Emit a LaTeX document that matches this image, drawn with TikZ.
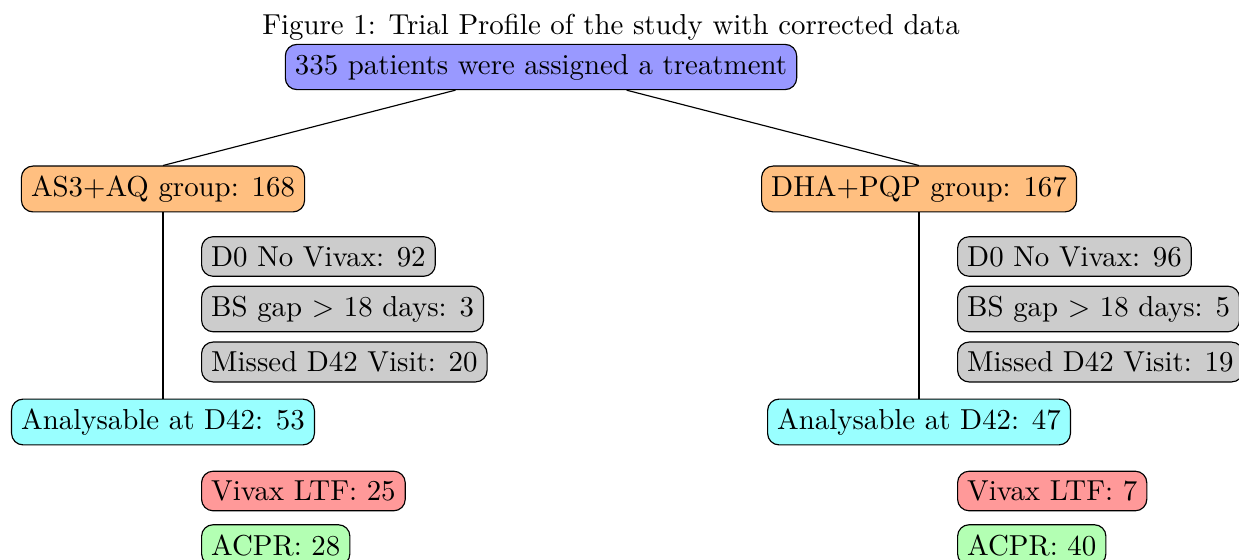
\documentclass[tikz,border=0pt]{standalone}
\usetikzlibrary{calc}
\definecolor{anfill}{RGB}{153,255,255}
\definecolor{topfill}{RGB}{153,153,255}
\definecolor{grpfill}{RGB}{255,191,128}
\definecolor{exfill}{RGB}{204,204,204}
\definecolor{ltffill}{RGB}{255,153,153}
\definecolor{acprfill}{RGB}{179,255,179}
\begin{document}
\begin{tikzpicture}[x=0.3464pt,y=-0.3464pt,
  box/.style={draw, rounded corners=4pt, inner sep=3.33pt},
  topbox/.style={box, fill=topfill},
  grpbox/.style={box, fill=grpfill},
  exbox/.style={box, fill=exfill, anchor=west},
  anbox/.style={box, fill=anfill},
  ltfbox/.style={box, fill=ltffill, anchor=west},
  acprbox/.style={box, fill=acprfill, anchor=west},
  link/.style={draw, line width=0.4pt}]
\useasboundingbox (0,0) rectangle (1239,560);
\node[inner sep=0] (cap) at (611,27) {Figure 1: Trial Profile of the study with corrected data};
\node[topbox] (top) at (541,67) {335 patients were assigned a treatment};
\node[grpbox] (g1) at (163,189) {AS3+AQ group: 168};
\node[grpbox] (g2) at (919,189) {DHA+PQP group: 167};
\node[exbox] (a1) at (201,256.5) {D0 No Vivax: 92};
\node[exbox] (a2) at (201,309) {BS gap $>$ 18 days: 3};
\node[exbox] (a3) at (201,362) {Missed D42 Visit: 20};
\node[exbox] (b1) at (957,256.5) {D0 No Vivax: 96};
\node[exbox] (b2) at (957,309) {BS gap $>$ 18 days: 5};
\node[exbox] (b3) at (957,362) {Missed D42 Visit: 19};
\node[anbox] (an1) at (163,422) {Analysable at D42: 53};
\node[anbox] (an2) at (919,422) {Analysable at D42: 47};
\node[ltfbox] (l1) at (201,491) {Vivax LTF: 25};
\node[acprbox] (c1) at (201,545) {ACPR: 28};
\node[ltfbox] (l2) at (957,491) {Vivax LTF: 7};
\node[acprbox] (c2) at (957,545) {ACPR: 40};
\draw[link] ($(top.south west)!0.333!(top.south east)$) -- (g1.north);
\draw[link] ($(top.south west)!0.667!(top.south east)$) -- (g2.north);
\draw[link] (g1.south) -- (an1.north);
\draw[link] (g2.south) -- (an2.north);
\end{tikzpicture}
\end{document}
